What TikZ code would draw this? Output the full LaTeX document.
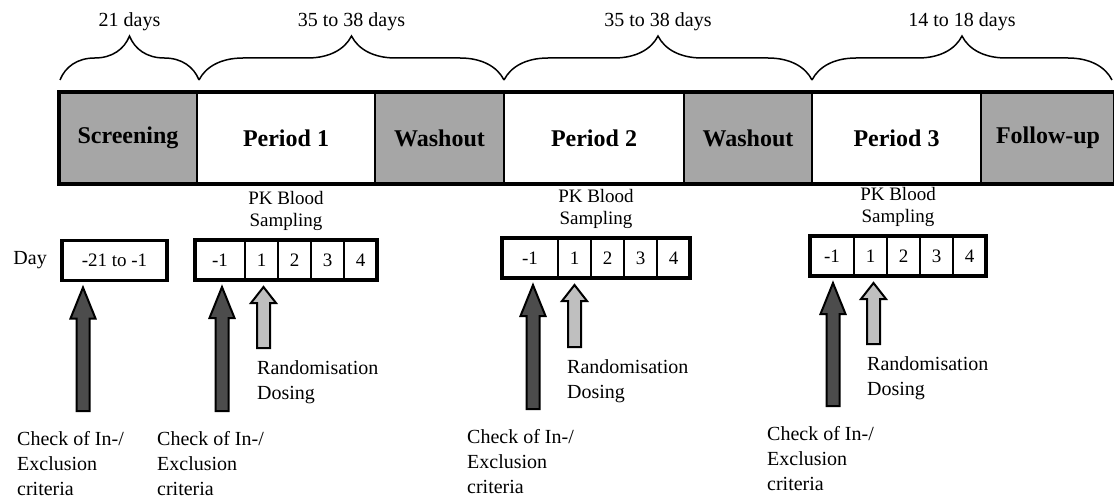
\documentclass[tikz,border=0pt]{standalone}
\usepackage{fontspec}
\setmainfont{Liberation Serif}
\usetikzlibrary{calc,positioning,decorations.pathreplacing}

% upward block arrow: fill, base, tip, head length
\newcommand{\blkarrow}[4]{%
  \filldraw[fill=#1,line width=2pt,line join=miter]
    ($(#2)+(-6.5,0)$) -- ($(#3)+(-6.5,#4)$) -- ($(#3)+(-12.5,#4)$) -- (#3)
    -- ($(#3)+(12.5,#4)$) -- ($(#3)+(6.5,#4)$) -- ($(#2)+(6.5,0)$) -- cycle;}

\begin{document}
\begin{tikzpicture}[x=1pt,y=-1pt,node distance=0pt]
 \tikzstyle{blk}=[draw,line width=2.5pt,outer sep=0,inner sep=0,minimum height=92,font=\fontsize{24}{27}\selectfont\bfseries]
 \tikzstyle{shd}=[blk,fill=black!35]
 \tikzstyle{prd}=[blk,fill=white]
 \tikzstyle{cell}=[draw,line width=2pt,outer sep=0,inner sep=0,minimum height=40,minimum width=33,font=\fontsize{19}{22}\selectfont]
 \tikzstyle{txt}=[inner sep=0,align=left,font=\fontsize{20}{25}\selectfont]
 \tikzstyle{pk}=[inner sep=0,align=center,font=\fontsize{19}{22}\selectfont]
 \tikzstyle{brc}=[decorate,decoration={brace,amplitude=44pt},line width=1.5pt]
 \useasboundingbox (0,0) rectangle (1114,500);
  % study phases
  \node[shd,minimum width=138] (Scr) at (128,138) {Screening};
  \node[prd,minimum width=178] (P1) [right=0pt of Scr] {Period 1};
  \node[shd,minimum width=129] (Wo1) [right=0pt of P1] {Washout};
  \node[prd,minimum width=180] (P2) [right=0pt of Wo1] {Period 2};
  \node[shd,minimum width=128] (Wo2) [right=0pt of P2] {Washout};
  \node[prd,minimum width=169] (P3) [right=0pt of Wo2] {Period 3};
  \node[shd,minimum width=134] (Fu) [right=0pt of P3] {Follow-up};
\draw[line width=4pt] (Scr.north west) rectangle (Fu.south east);
  % durations
\draw[brc] ($(Scr.north west)+(1,-12)$) -- ($(Scr.north east)+(2,-12)$) node[txt,midway,above=48pt] (L1) {21 days};
\draw[brc] ($(P1.north west)+(2,-12)$) -- ($(Wo1.north east)+(0,-12)$) node[txt,midway,above=48pt] (L2) {35 to 38 days};
\draw[brc] ($(P2.north west)+(0,-12)$) -- ($(Wo2.north east)+(0,-12)$) node[txt,midway,above=48pt] (L3) {35 to 38 days};
\draw[brc] ($(P3.north west)+(0,-12)$) -- ($(Fu.north east)+(-3,-12)$) node[txt,midway,above=48pt] (L4) {14 to 18 days};
  % days
  \node[cell,minimum width=105,line width=3.5pt] (D0) at (114.5,260.5) {-21 to -1};
  \node[txt] (Day) [left=15pt of D0] {Day};
  \node[cell,minimum width=50] (D1a) at (220,260) {-1};
  \node[cell] (D1b) [right=0pt of D1a] {1};
  \node[cell] (D1c) [right=0pt of D1b] {2};
  \node[cell] (D1d) [right=0pt of D1c] {3};
  \node[cell] (D1e) [right=0pt of D1d] {4};
  \node[cell,minimum width=56] (D2a) at (530,258) {-1};
  \node[cell] (D2b) [right=0pt of D2a] {1};
  \node[cell] (D2c) [right=0pt of D2b] {2};
  \node[cell] (D2d) [right=0pt of D2c] {3};
  \node[cell] (D2e) [right=0pt of D2d] {4};
  \node[cell,minimum width=44] (D3a) at (832,256) {-1};
  \node[cell] (D3b) [right=0pt of D3a] {1};
  \node[cell] (D3c) [right=0pt of D3b] {2};
  \node[cell] (D3d) [right=0pt of D3c] {3};
  \node[cell] (D3e) [right=0pt of D3d] {4};
\draw[line width=3.5pt] (D1a.north west) rectangle (D1e.south east);
\draw[line width=3.5pt] (D2a.north west) rectangle (D2e.south east);
\draw[line width=3.5pt] (D3a.north west) rectangle (D3e.south east);
  % sampling
  \coordinate (M1) at ($(D1a.north west)!.5!(D1e.north east)$);
  \coordinate (M2) at ($(D2a.north west)!.5!(D2e.north east)$);
  \coordinate (M3) at ($(D3a.north west)!.5!(D3e.north east)$);
  \node[pk] (PK1) [above=9pt of M1] {PK Blood\\Sampling};
  \node[pk] (PK2) [above=9pt of M2] {PK Blood\\Sampling};
  \node[pk] (PK3) [above=9pt of M3] {PK Blood\\Sampling};
  % events
  \node[txt,anchor=north west] (Chk0) at (17,431) {Check of In-/\\Exclusion\\criteria};
  \node[txt,anchor=north west] (Chk1) at (157,431) {Check of In-/\\Exclusion\\criteria};
  \node[txt,anchor=north west] (Chk2) at (467,429) {Check of In-/\\Exclusion\\criteria};
  \node[txt,anchor=north west] (Chk3) at (767,426) {Check of In-/\\Exclusion\\criteria};
  \node[txt,anchor=north west] (Rnd1) at (257,360) {Randomisation\\Dosing};
  \node[txt,anchor=north west] (Rnd2) at (567,359) {Randomisation\\Dosing};
  \node[txt,anchor=north west] (Rnd3) at (867,356) {Randomisation\\Dosing};
  \coordinate (T0) at ($(D0.south west)+(21,7)$);
  \coordinate (T1) at ($(D1a.south)+(2,7)$);
  \coordinate (T2) at ($(D2a.south)+(3,7)$);
  \coordinate (T3) at ($(D3a.south)+(1,7)$);
  \coordinate (R1) at ($(D1b.south)+(2,7)$);
  \coordinate (R2) at ($(D2b.south)+(0,7)$);
  \coordinate (R3) at ($(D3b.south)+(3,7)$);
  \coordinate (B0) at ($(T0 |- Chk0.north)+(0,-20)$);
  \coordinate (B1) at ($(T1 |- Chk1.north)+(0,-20)$);
  \coordinate (B2) at ($(T2 |- Chk2.north)+(0,-20)$);
  \coordinate (B3) at ($(T3 |- Chk3.north)+(0,-20)$);
  \coordinate (S1) at ($(R1 |- Rnd1.north)+(0,-12)$);
  \coordinate (S2) at ($(R2 |- Rnd2.north)+(0,-12)$);
  \coordinate (S3) at ($(R3 |- Rnd3.north)+(0,-12)$);
\blkarrow{black!70}{B0}{T0}{31}
\blkarrow{black!70}{B1}{T1}{31}
\blkarrow{black!70}{B2}{T2}{31}
\blkarrow{black!70}{B3}{T3}{31}
\blkarrow{black!25}{S1}{R1}{16}
\blkarrow{black!25}{S2}{R2}{16}
\blkarrow{black!25}{S3}{R3}{16}
\end{tikzpicture}
\end{document}
